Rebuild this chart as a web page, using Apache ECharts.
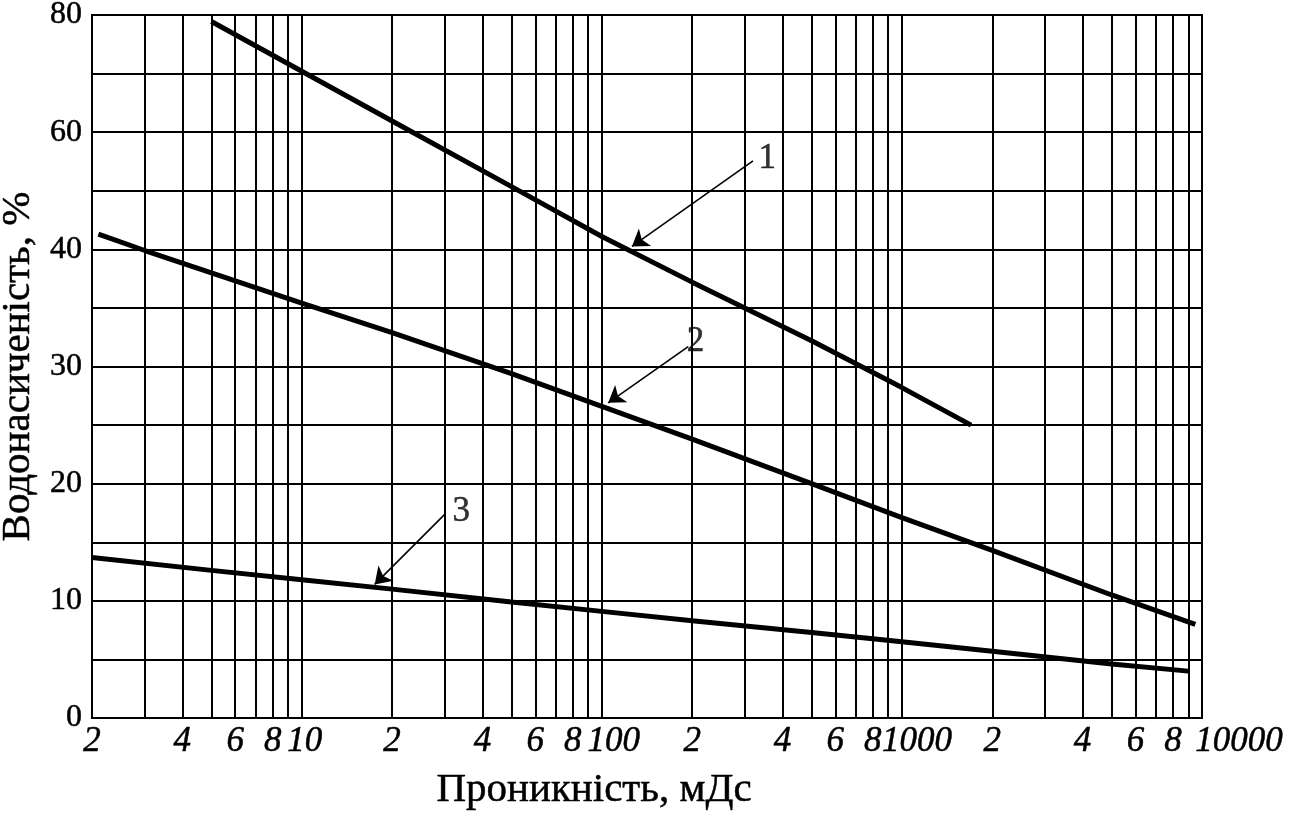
<!DOCTYPE html>
<html>
<head>
<meta charset="utf-8">
<title>Водонасиченість — проникність</title>
<script src="https://cdn.jsdelivr.net/npm/echarts@6/dist/echarts.min.js"></script>
<style>
  html, body { margin: 0; padding: 0; background: #fff; }
  #chart { width: 1300px; height: 816px; }
</style>
</head>
<body>
<div id="chart"></div>
<script>
// permeability (mD): lines of the log paper and the values that get a label
const xGrid = [2, 3, 4, 5, 6, 7, 8, 9, 10, 20, 30, 40, 50, 60, 70, 80, 90, 100,
  200, 300, 400, 500, 600, 700, 800, 900, 1000, 2000, 3000, 4000, 5000, 6000, 7000, 8000, 9000, 10000];
const xLabelValues = [2, 4, 6, 8, 10, 20, 40, 60, 80, 100, 200, 400, 600, 800, 1000, 2000, 4000, 6000, 8000, 10000];
// water saturation (%): labelled values sit at equal steps
const yTicks = [0, 10, 20, 30, 40, 60, 80];

// curves 1..3
const perm1 = [5, 10, 20, 50, 100, 200, 500, 1000, 1700];
const sat1 = [78.9, 70.4, 61.9, 50.7, 42.2, 37.2, 32.2, 28.2, 25.0];
const perm2 = [2.1, 3, 5, 10, 20, 50, 100, 200, 500, 1000, 2000, 5000, 9500];
const sat2 = [42.6, 39.9, 38.0, 35.4, 32.9, 29.4, 26.6, 23.8, 20.0, 17.1, 14.3, 10.5, 8.0];
const perm3 = [2, 5, 10, 20, 50, 100, 200, 500, 1000, 2000, 5000, 9000];
const sat3 = [13.7, 12.6, 11.8, 11.0, 9.9, 9.1, 8.3, 7.3, 6.5, 5.7, 4.6, 4.0];

// curve numbers and their pointer arrows
const curveNames = ['1', '2', '3'];
const labelPerm = [356, 205, 34];
const labelSat = [55.4, 32.1, 17.6];
const arrowFromPerm = [319, 194, 30];
const arrowFromSat = [55.1, 31.7, 17.4];
const arrowToPerm = [126, 105, 17.5];
const arrowToSat = [40.5, 26.9, 11.4];

const serif = "'Liberation Serif', 'Times New Roman', serif";
// scanned print looks a little heavier than a clean font
const ink = { color: '#000', textBorderColor: '#000', textBorderWidth: 0.5 };

// saturation -> position on the stepped y scale
function yPos(v) {
  for (let i = 1; i < yTicks.length; i++) {
    if (v <= yTicks[i]) return i - 1 + (v - yTicks[i - 1]) / (yTicks[i] - yTicks[i - 1]);
  }
  return yTicks.length - 1;
}

function fmtX(v) {
  const e = Math.floor(Math.log10(v) + 1e-9);
  const d = Math.round(v / Math.pow(10, e));
  if (d === 1 && e > 0) return '{m' + e + '|' + Math.pow(10, e) + '}';
  return String(d);
}

function richX(pad) {
  return Object.assign({ padding: [0, 0, 0, pad], fontFamily: serif, fontStyle: 'italic', fontSize: 35 }, ink);
}

const chart = echarts.init(document.getElementById('chart'));

const curves = [[perm1, sat1], [perm2, sat2], [perm3, sat3]];
const series = curves.map(function (c, i) {
  return {
    type: 'line',
    name: curveNames[i],
    data: c[0].map(function (p, k) { return [p, yPos(c[1][k])]; }),
    showSymbol: false,
    symbol: 'none',
    silent: true,
    lineStyle: { color: '#000', width: 5 },
    markLine: {
      silent: true,
      animation: false,
      symbol: ['none', 'arrow'],
      symbolSize: 16,
      itemStyle: { color: '#000' },
      lineStyle: { color: '#000', width: 1.6, type: 'solid' },
      label: { show: false },
      data: [[
        { coord: [arrowFromPerm[i], yPos(arrowFromSat[i])] },
        { coord: [arrowToPerm[i], yPos(arrowToSat[i])] }
      ]]
    }
  };
});

series.push({
  type: 'scatter',
  symbolSize: 0,
  silent: true,
  data: labelPerm.map(function (p, i) { return [p, yPos(labelSat[i])]; }),
  label: Object.assign({
    show: true,
    position: 'inside',
    formatter: function (p) { return curveNames[p.dataIndex]; },
    fontFamily: serif,
    fontSize: 35
  }, ink)
});

const option = {
  animation: false,
  backgroundColor: '#fff',
  grid: {
    left: 92, right: 98, top: 15, bottom: 98,
    show: true, borderColor: '#000', borderWidth: 2,
    containLabel: false, outerBoundsMode: 'none'
  },
  xAxis: {
    type: 'log',
    logBase: 10,
    min: 2,
    max: 10000,
    axisLine: { show: true, lineStyle: { color: '#000', width: 2 } },
    axisTick: { show: false, customValues: xGrid },
    splitLine: { show: true, lineStyle: { color: '#000', width: 2 } },
    axisLabel: Object.assign({
      customValues: xLabelValues,
      formatter: fmtX,
      margin: 6,
      fontFamily: serif,
      fontStyle: 'italic',
      fontSize: 35,
      rich: { m1: richX(6), m2: richX(24), m3: richX(30), m4: richX(74) }
    }, ink),
    name: 'Проникність, мДс',
    nameLocation: 'middle',
    nameGap: 52,
    nameTextStyle: Object.assign({ fontFamily: serif, fontSize: 41, padding: [0, 106, 0, 0] }, ink)
  },
  yAxis: {
    type: 'value',
    min: 0,
    max: yTicks.length - 1,
    interval: 0.5,
    axisLine: { show: true, lineStyle: { color: '#000', width: 2 } },
    axisTick: { show: false },
    splitLine: { show: true, lineStyle: { color: '#000', width: 2 } },
    axisLabel: Object.assign({
      formatter: function (v) {
        const r = Math.round(v);
        return Math.abs(v - r) < 1e-6 ? String(yTicks[r]) : '';
      },
      margin: 10,
      fontFamily: serif,
      fontSize: 32
    }, ink),
    name: 'Водонасиченість, %',
    nameLocation: 'middle',
    nameGap: 50,
    nameTextStyle: Object.assign({ fontFamily: serif, fontSize: 41 }, ink)
  },
  series: series
};

chart.setOption(option);
</script>
</body>
</html>
